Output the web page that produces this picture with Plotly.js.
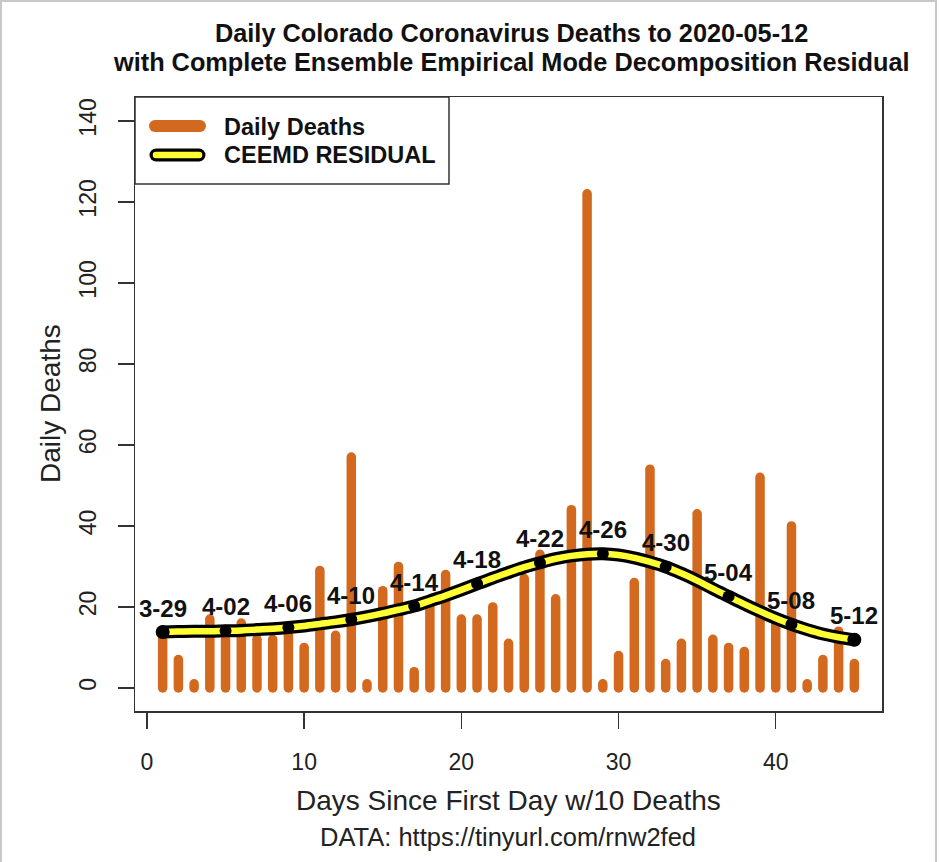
<!DOCTYPE html>
<html>
<head>
<meta charset="utf-8">
<script src="https://cdn.plot.ly/plotly-3.0.1.min.js"></script>
<style>
  body { margin: 0; padding: 0; background: #fff; }
  #chart { width: 939px; height: 862px; }
  path.js-line { stroke-linecap: round; stroke-linejoin: round; }
  .shapelayer path { stroke-linecap: round; }
</style>
</head>
<body>
<div id="chart"></div>
<script>
// Day index since first day with 10 deaths
const days = [1,2,3,4,5,6,7,8,9,10,11,12,13,14,15,16,17,18,19,20,21,22,23,24,25,26,27,28,29,30,31,32,33,34,35,36,37,38,39,40,41,42,43,44,45];
// Daily deaths
const dailyDeaths = [14,7,1,17,12,16,12,12,13,10,29,13,57,1,24,30,4,20,28,17,17,20,11,27,33,22,44,122,1,8,26,54,6,11,43,12,10,9,52,16,40,1,7,14,6];
// CEEMD residual
const residual = [13.8,13.9,14.0,14.0,14.1,14.2,14.4,14.6,14.9,15.3,15.8,16.3,16.9,17.6,18.4,19.3,20.2,21.5,22.8,24.2,25.7,27.1,28.5,29.8,30.9,31.9,32.6,33.0,33.1,32.8,32.1,31.1,29.9,28.3,26.5,24.5,22.6,20.7,18.9,17.2,15.7,14.4,13.3,12.5,11.9];
// Labelled dates
const labelDays = [1,5,9,13,17,21,25,29,33,37,41,45];
const labelText = ["3-29","4-02","4-06","4-10","4-14","4-18","4-22","4-26","4-30","5-04","5-08","5-12"];

const xTicks = [0,10,20,30,40];
const yTicks = [0,20,40,60,80,100,120,140];

const ORANGE = '#D2691E';
const FONT = 'Liberation Sans, Arial, Helvetica, sans-serif';

// Build vertical "h-type" bars as line segments from the data
const barX = [], barY = [];
days.forEach((d, i) => { barX.push(d, d, null); barY.push(0, dailyDeaths[i], null); });

const labelY = labelDays.map(d => residual[days.indexOf(d)]);

const traces = [
  { x: barX, y: barY, type: 'scatter', mode: 'lines',
    line: { color: ORANGE, width: 9.5 }, hoverinfo: 'skip', showlegend: false },
  { x: days, y: residual, type: 'scatter', mode: 'lines',
    line: { color: '#000', width: 13, shape: 'spline' }, showlegend: false },
  { x: days, y: residual, type: 'scatter', mode: 'lines',
    line: { color: '#FFFF33', width: 6.5, shape: 'spline' }, showlegend: false },
  { x: labelDays, y: labelY, type: 'scatter', mode: 'markers',
    marker: { color: '#000', opacity: 1, line: { width: 0 },
              size: labelDays.map((d, i) => (i === 0 || i === labelDays.length - 1) ? 14 : 12) },
    showlegend: false }
];

const annotations = labelDays.map((d, i) => ({
  x: d, y: labelY[i], xref: 'x', yref: 'y', text: labelText[i],
  showarrow: false, yshift: 24, yanchor: 'middle', xanchor: 'center',
  font: { family: FONT, size: 24, color: '#111', weight: 'bold' }
}));

// paper coordinates helpers (plot area: x 135..882, y 97..711)
const px = v => (v - 135) / 747;
const py = v => (711 - v) / 614;

annotations.push(
  { xref: 'paper', yref: 'paper', x: px(511), y: py(33), text: '<b>Daily Colorado Coronavirus Deaths to 2020-05-12</b>',
    showarrow: false, xanchor: 'center', yanchor: 'middle', font: { family: FONT, size: 25.3, color: '#111' } },
  { xref: 'paper', yref: 'paper', x: px(511), y: py(62), text: '<b>with Complete Ensemble Empirical Mode Decomposition Residual</b>',
    showarrow: false, xanchor: 'center', yanchor: 'middle', font: { family: FONT, size: 25.3, color: '#111' } },
  { xref: 'paper', yref: 'paper', x: px(508), y: py(800), text: 'Days Since First Day w/10 Deaths',
    showarrow: false, xanchor: 'center', yanchor: 'middle', font: { family: FONT, size: 28, color: '#222' } },
  { xref: 'paper', yref: 'paper', x: px(508), y: py(837), text: 'DATA: https://tinyurl.com/rnw2fed',
    showarrow: false, xanchor: 'center', yanchor: 'middle', font: { family: FONT, size: 25.5, color: '#222' } },
  { xref: 'paper', yref: 'paper', x: px(50), y: py(404), text: 'Daily Deaths', textangle: -90,
    showarrow: false, xanchor: 'center', yanchor: 'middle', font: { family: FONT, size: 28, color: '#222' } },
  { xref: 'paper', yref: 'paper', x: px(222), y: py(127), text: '<b>Daily Deaths</b>',
    showarrow: false, xanchor: 'left', yanchor: 'middle', font: { family: FONT, size: 23.5, color: '#111' } },
  { xref: 'paper', yref: 'paper', x: px(222), y: py(155), text: '<b>CEEMD RESIDUAL</b>',
    showarrow: false, xanchor: 'left', yanchor: 'middle', font: { family: FONT, size: 23.5, color: '#111' } }
);

const shapes = [
  // screenshot frame
  { type: 'rect', xref: 'paper', yref: 'paper', x0: px(1), x1: px(936), y0: py(880), y1: py(1),
    line: { color: '#c8c8c8', width: 2 }, layer: 'below' },
  // legend box
  { type: 'rect', xref: 'paper', yref: 'paper', x0: 0, x1: px(449), y0: py(184), y1: 1,
    line: { color: '#333', width: 1.5 }, fillcolor: '#fff', layer: 'above' },
  { type: 'line', xref: 'paper', yref: 'paper', x0: px(155), x1: px(200), y0: py(126), y1: py(126),
    line: { color: ORANGE, width: 12 } },
  { type: 'line', xref: 'paper', yref: 'paper', x0: px(156), x1: px(199), y0: py(155), y1: py(155),
    line: { color: '#000', width: 13 } },
  { type: 'line', xref: 'paper', yref: 'paper', x0: px(156), x1: px(199), y0: py(155), y1: py(155),
    line: { color: '#FFFF33', width: 6.5 } }
];

const layout = {
  width: 939, height: 862,
  margin: { l: 135, r: 57, t: 97, b: 151 },
  paper_bgcolor: '#fff', plot_bgcolor: '#fff',
  showlegend: false, hovermode: false,
  font: { family: FONT, color: '#222' },
  xaxis: {
    range: [-0.76, 46.76], tickvals: xTicks, ticktext: xTicks.map(String),
    ticks: 'outside', ticklen: 16, tickwidth: 1.5, tickcolor: '#333',
    showline: true, mirror: true, linecolor: '#333', linewidth: 1.5,
    showgrid: false, zeroline: false, ticklabelstandoff: 14,
    tickfont: { family: FONT, size: 23, color: '#222' }
  },
  yaxis: {
    range: [-5.7, 145.9], tickvals: yTicks, ticktext: yTicks.map(String),
    ticks: 'outside', ticklen: 16, tickwidth: 1.5, tickcolor: '#333', tickangle: -90,
    showline: true, mirror: true, linecolor: '#333', linewidth: 1.5,
    showgrid: false, zeroline: false, ticklabelstandoff: 12,
    tickfont: { family: FONT, size: 23, color: '#222' }
  },
  annotations: annotations,
  shapes: shapes
};

Plotly.newPlot('chart', traces, layout, { staticPlot: true, displayModeBar: false });
</script>
</body>
</html>
